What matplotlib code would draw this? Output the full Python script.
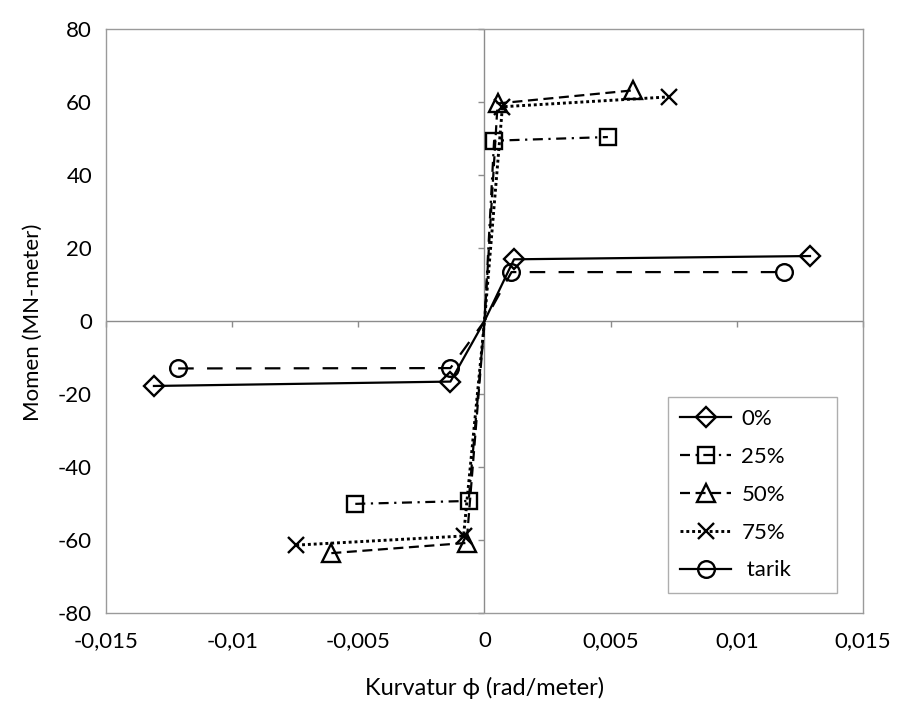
import matplotlib
matplotlib.use("Agg")
import matplotlib.pyplot as plt
from matplotlib.markers import TICKDOWN, TICKLEFT

plt.rcParams['font.family'] = ['Lato', 'DejaVu Sans']
plt.rcParams['axes.unicode_minus'] = False

# Data (curvature rad/m, moment MN-m)
x_0 = [-0.0131, -0.00135, 0.0, 0.00117, 0.0129]
y_0 = [-17.8, -16.6, 0.0, 16.9, 17.8]

x_25 = [-0.00512, -0.00063, 0.0, 0.00038, 0.00489]
y_25 = [-50.1, -49.3, 0.0, 49.4, 50.4]

x_50 = [-0.00607, -0.00071, 0.0, 0.00052, 0.0059]
y_50 = [-63.6, -60.8, 0.0, 59.6, 63.2]

x_75 = [-0.00746, -0.00083, 0.0, 0.00071, 0.00731]
y_75 = [-61.4, -58.9, 0.0, 58.7, 61.4]

x_tarik = [-0.01214, -0.00135, 0.0, 0.00107, 0.01186]
y_tarik = [-13.0, -12.9, 0.0, 13.4, 13.4]

labels = ['0%', '25%', '50%', '75%', ' tarik']
xticks = [-0.015, -0.01, -0.005, 0, 0.005, 0.01, 0.015]
xticklabels = ['-0,015', '-0,01', '-0,005', '0', '0,005', '0,01', '0,015']
yticks = [-80, -60, -40, -20, 0, 20, 40, 60, 80]

W, H = 904, 713
fig = plt.figure(figsize=(W / 100, H / 100), dpi=100)
L, R, T, B = 106, 863, 29, 613
ax = fig.add_axes([L / W, 1 - B / H, (R - L) / W, (B - T) / H])

ax.set_xlim(-0.015, 0.015)
ax.set_ylim(-80, 80)

gray = '#9a9a9a'
for s in ax.spines.values():
    s.set_color(gray)
    s.set_linewidth(1.0)

ax.axhline(0, color='#8c8c8c', lw=1.0, zorder=1)
ax.axvline(0, color='#8c8c8c', lw=1.0, zorder=1)
# tick marks on the crossing axes
ax.plot(xticks, [0] * len(xticks), ls='none', marker=TICKDOWN, ms=4,
        mew=1.0, color='#8c8c8c', zorder=1, clip_on=False)
ax.plot([0] * len(yticks), yticks, ls='none', marker=TICKLEFT, ms=4,
        mew=1.0, color='#8c8c8c', zorder=1, clip_on=False)

ax.set_xticks(xticks)
ax.set_xticklabels(xticklabels)
ax.set_yticks(yticks)
ax.tick_params(length=0, labelsize=16, colors='black')
ax.tick_params(axis='x', pad=13)
ax.tick_params(axis='y', pad=10)

lw = 1.6
me = [0, 1, 3, 4]  # no marker at the origin
mk = dict(markerfacecolor='none', markeredgecolor='black',
          markeredgewidth=1.7, markevery=me)
ax.plot(x_0, y_0, color='black', lw=lw, ls='-', marker='D', ms=10.5,
        label=labels[0], **mk)
ax.plot(x_25, y_25, color='black', lw=lw, ls=(0, (4.5, 2.5, 1, 2.5)),
        marker='s', ms=12, label=labels[1], **mk)
ax.plot(x_50, y_50, color='black', lw=lw, ls=(0, (4.5, 2.5)),
        marker='^', ms=12.5, label=labels[2], **mk)
ax.plot(x_75, y_75, color='black', lw=2.1, ls=(0, (1, 1)),
        marker='x', ms=12, label=labels[3], **mk)
ax.plot(x_tarik, y_tarik, color='black', lw=lw, ls=(0, (7, 6)),
        marker='o', ms=12, label=labels[4], **mk)

leg = ax.legend(loc='upper left',
                bbox_to_anchor=(668 / W, 1 - 589 / H, 169 / W, 192 / H),
                bbox_transform=fig.transFigure, borderaxespad=0,
                mode='expand',
                frameon=True, fancybox=False, shadow=False,
                edgecolor=gray, fontsize=16, handlelength=2.3,
                handletextpad=0.45, labelspacing=0.8, borderpad=0.55,
                numpoints=1)
leg.get_frame().set_linewidth(1.0)
leg.get_lines()[4].set_linestyle('-')

fig.text(485 / W, 1 - 688 / H, 'Kurvatur \u03d5 (rad/meter)', ha='center',
         va='center', fontsize=17)
fig.text(33 / W, 1 - 322 / H, 'Momen (MN-meter)', ha='center', va='center',
         rotation=90, fontsize=16)

fig.savefig('out.png', dpi=100)
